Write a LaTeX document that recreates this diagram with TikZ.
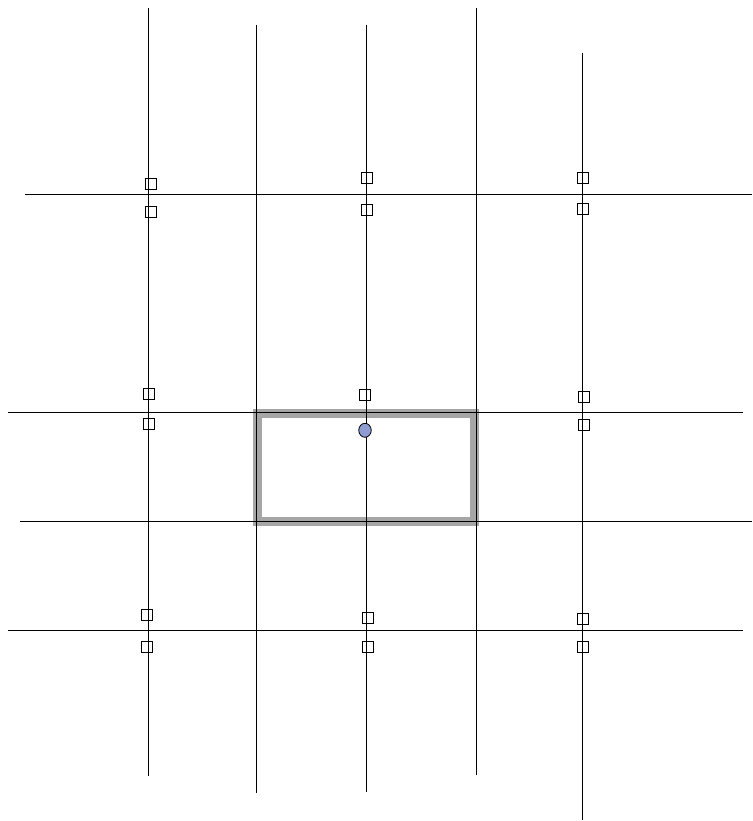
\documentclass[tikz,border=0pt]{standalone}
\usetikzlibrary{shapes.geometric}
\definecolor{framegray}{RGB}{166,166,166}
\definecolor{dotblue}{RGB}{142,156,210}
\tikzset{
  gridline/.style={black, line width=1pt},
  marker/.style={draw=black, line width=0.9pt, rectangle, minimum width=11pt, minimum height=11pt, inner sep=0pt},
  frame/.style={draw=framegray, line width=9pt},
  dot/.style={draw=black, fill=dotblue, line width=0.8pt, ellipse, minimum width=12.5pt, minimum height=14pt, inner sep=0pt}
}
\begin{document}
\begin{tikzpicture}[x=1pt, y=-1pt]
\useasboundingbox (0,0) rectangle (752,821);
% highlighted cell
\draw[frame] (257,413) rectangle (474.5,521.7);
% vertical lines
\draw[gridline] (148,8) -- (148,776);
\draw[gridline] (256.5,25) -- (256.5,793);
\draw[gridline] (366,25) -- (366,792);
\draw[gridline] (476.3,8) -- (476.3,775);
\draw[gridline] (582.3,53) -- (582.3,820);
% horizontal lines
\draw[gridline] (25,194.5) -- (752,194.5);
\draw[gridline] (8,412.3) -- (743,412.3);
\draw[gridline] (20,521.5) -- (752,521.5);
\draw[gridline] (8,630.8) -- (743,630.8);
% markers
\node[marker] (a1) at (150.5,183.8) {};
\node[marker] (a2) at (150.5,212) {};
\node[marker] (a3) at (148.7,393.8) {};
\node[marker] (a4) at (148.7,423.8) {};
\node[marker] (a5) at (147.3,614.7) {};
\node[marker] (a6) at (147.3,647.2) {};
\node[marker] (b1) at (367,178.3) {};
\node[marker] (b2) at (367,209.7) {};
\node[marker] (b3) at (364.8,395.3) {};
\node[marker] (b5) at (367.8,617.7) {};
\node[marker] (b6) at (367.8,647.3) {};
\node[marker] (c1) at (583.3,177.8) {};
\node[marker] (c2) at (583.3,209) {};
\node[marker] (c3) at (584.3,397.2) {};
\node[marker] (c4) at (584.3,425) {};
\node[marker] (c5) at (583.3,618.8) {};
\node[marker] (c6) at (583.3,647.3) {};
% blue dot
\node[dot] (p) at (365,430.3) {};
\end{tikzpicture}
\end{document}
